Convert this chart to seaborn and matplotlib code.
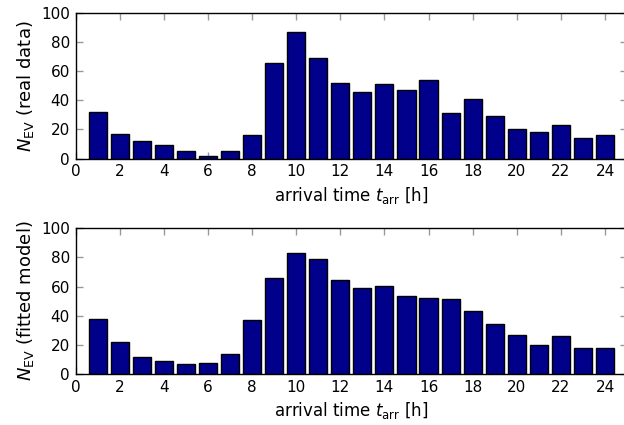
import matplotlib
matplotlib.use("Agg")
import matplotlib.pyplot as plt
import numpy as np
import pandas as pd
import seaborn as sns

# Hourly arrival counts, hours 1..24
hours = list(range(1, 25))
real_data = [32, 17, 12, 9, 5, 2, 5, 16, 66, 87, 69, 52,
             46, 51, 47, 54, 31, 41, 29, 20, 18, 23, 14, 16]
fitted_model = [37.5, 21.7, 11.9, 8.9, 6.9, 7.3, 13.7, 37.3, 65.9, 83.3, 79.2, 64.7,
                58.8, 60.6, 53.5, 51.9, 51.2, 43.0, 34.3, 26.5, 20.1, 26.3, 17.8, 18.0]
ylabels = [r"$N_{\rm EV}$ (real data)", r"$N_{\rm EV}$ (fitted model)"]

sns.set_style("ticks")
plt.rcParams["font.family"] = ["DejaVu Sans"]
plt.rcParams["mathtext.fontset"] = "dejavusans"
plt.rcParams["text.color"] = "black"
plt.rcParams["axes.labelcolor"] = "black"

fig = plt.figure(figsize=(6.24, 4.25), dpi=100)
ax1 = fig.add_axes([0.121, 0.627, 0.884, 0.342])
ax2 = fig.add_axes([0.121, 0.12, 0.884, 0.343])

for ax, vals, lab in zip([ax1, ax2], [real_data, fitted_model], ylabels):
    df = pd.DataFrame({"hour": hours, "count": vals})
    sns.barplot(data=df, x="hour", y="count", native_scale=True, width=0.82,
                color="#00008B", saturation=1, edgecolor="black", linewidth=1, ax=ax)
    ax.set_xlim(0, 25)
    ax.set_ylim(0, 100)
    ax.set_xticks(np.arange(0, 25, 2))
    ax.set_yticks(np.arange(0, 101, 20))
    ax.tick_params(direction="in", top=True, right=True, length=5, width=1,
                   color="#999999", labelcolor="black", labelsize=11, pad=4)
    for s in ax.spines.values():
        s.set_color("black")
        s.set_linewidth(1)
    ax.set_ylabel(lab, fontsize=13, color="black")
    ax.set_xlabel(r"arrival time $t_{\rm arr}$ [h]", fontsize=12, color="black")

fig.savefig("out.png", dpi=100)
